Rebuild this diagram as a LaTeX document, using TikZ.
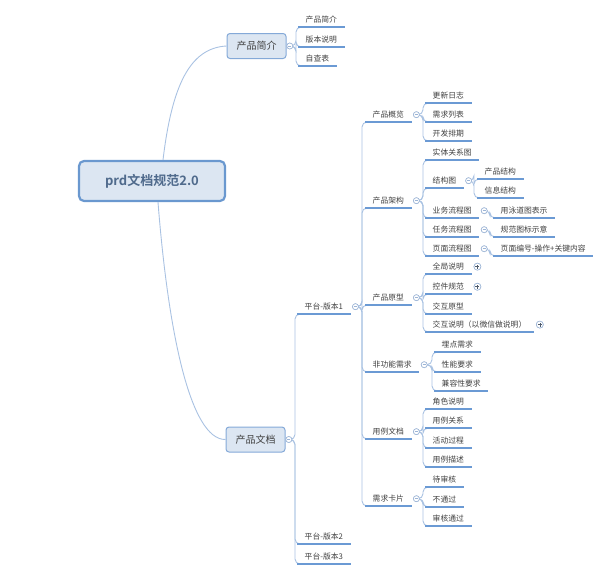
\documentclass[tikz,border=0pt]{standalone}
\usepackage{fontspec}
\setmainfont{Noto Sans CJK SC}[BoldFont={Noto Sans CJK SC Bold}]
\usetikzlibrary{positioning}
\definecolor{boxfill}{HTML}{DCE6F2}
\definecolor{rootline}{HTML}{6A98CF}
\definecolor{boxline}{HTML}{84A9D8}
\definecolor{ulinec}{HTML}{6B9AD4}
\definecolor{branchc}{HTML}{A9C2E2}
\definecolor{foldc}{HTML}{9DB5D6}
\definecolor{roottext}{HTML}{4F6A8C}
\definecolor{txt}{HTML}{404040}

\tikzset{
  root/.style={draw=rootline, fill=boxfill, line width=2.2pt, rounded corners=5pt,
    minimum width=146pt, minimum height=40pt, text=roottext,
    font=\fontsize{13}{15}\selectfont\bfseries},
  topic/.style={draw=boxline, fill=boxfill, line width=1pt, rounded corners=3pt,
    minimum width=59pt, minimum height=25pt, text=txt, font=\fontsize{10}{12}\selectfont},
  leaf/.style={anchor=south west, inner xsep=7.5pt, inner ysep=3.5pt, text=txt,
    font=\fontsize{7.8}{9}\selectfont},
  fold/.style={circle, draw=foldc, fill=white, line width=0.6pt, inner sep=0pt, minimum size=6pt,
    path picture={\draw[foldc, line width=0.5pt] ([xshift=-1.6pt]path picture bounding box.center)
      -- ([xshift=1.6pt]path picture bounding box.center);}},
  folded/.style={circle, draw=foldc, fill=white, line width=0.6pt, inner sep=0pt, minimum size=7pt,
    path picture={\draw[foldc!50!black, line width=0.6pt]
      ([xshift=-2pt]path picture bounding box.center) -- ([xshift=2pt]path picture bounding box.center)
      ([yshift=-2pt]path picture bounding box.center) -- ([yshift=2pt]path picture bounding box.center);}},
  main/.style={draw=branchc, line width=0.9pt},
  branch/.style={draw=branchc, line width=0.9pt, rounded corners=5pt},
  uline/.style={draw=ulinec, line width=1.5pt}
}

\begin{document}
\begin{tikzpicture}[x=1pt,y=-1pt]
\useasboundingbox (0,0) rectangle (610,576);

% centre and first level
\node[root] (root) at (152,181) {prd文档规范2.0};
\node[topic] (intro) at (256.5,46) {产品简介};
\node[topic] (doc) at (255.5,439.5) {产品文档};
\node[fold, right=0pt of intro] (intro-f) {};
\node[fold, right=0pt of doc] (doc-f) {};
\draw[main] ([xshift=11pt]root.north) .. controls (172,85) and (190,48) .. (intro.west);
\draw[main] ([xshift=6pt]root.south) .. controls (168,330) and (190,440) .. (doc.west);

% 产品简介
\node[leaf] (intro1) at (298,27) {产品简介};
\node[leaf] (intro2) at (298,47) {版本说明};
\node[leaf] (intro3) at (298,66) {自查表};

% 产品文档
\node[leaf] (v1) at (297,314) {平台-版本1};
\node[leaf] (v2) at (297,544) {平台-版本2};
\node[leaf] (v3) at (297,564) {平台-版本3};
\node[fold, right=1.5pt of v1] (v1-f) {};

% 平台-版本1
\node[leaf] (ov) at (365,122) {产品概览};
\node[leaf] (ar) at (365,208) {产品架构};
\node[leaf] (pr) at (365,305) {产品原型};
\node[leaf] (nf) at (365,372) {非功能需求};
\node[leaf] (uc) at (365,439) {用例文档};
\node[leaf] (cd) at (365,506) {需求卡片};
\foreach \n in {ov,ar,pr,nf,uc,cd}
  \node[fold, right=1.5pt of \n] (\n-f) {};

% 产品概览
\node[leaf] (ov1) at (425,103) {更新日志};
\node[leaf] (ov2) at (425,122) {需求列表};
\node[leaf] (ov3) at (425,141) {开发排期};

% 产品架构
\node[leaf] (ar1) at (425,160) {实体关系图};
\node[leaf] (ar2) at (425,188) {结构图};
\node[leaf] (ar3) at (425,218) {业务流程图};
\node[leaf] (ar4) at (425,237) {任务流程图};
\node[leaf] (ar5) at (425,256) {页面流程图};
\foreach \n in {ar2,ar3,ar4,ar5}
  \node[fold, right=1.5pt of \n] (\n-f) {};
\node[leaf] (st1) at (477,179) {产品结构};
\node[leaf] (st2) at (477,198) {信息结构};
\node[leaf] (bf1) at (493,218) {用泳道图表示};
\node[leaf] (tf1) at (493,237) {规范图标示意};
\node[leaf] (pf1) at (493,256) {页面编号-操作+关键内容};

% 产品原型
\node[leaf] (pr1) at (425,274) {全局说明};
\node[leaf] (pr2) at (425,294) {控件规范};
\node[leaf] (pr3) at (425,314) {交互原型};
\node[leaf] (pr4) at (425,332) {交互说明（以微信做说明）};
\foreach \n in {pr1,pr2,pr4}
  \node[folded, right=2pt of \n] (\n-f) {};

% 非功能需求
\node[leaf] (nf1) at (434,352) {埋点需求};
\node[leaf] (nf2) at (434,372) {性能要求};
\node[leaf] (nf3) at (434,391) {兼容性要求};

% 用例文档
\node[leaf] (uc1) at (425,409) {角色说明};
\node[leaf] (uc2) at (425,428) {用例关系};
\node[leaf] (uc3) at (425,448) {活动过程};
\node[leaf] (uc4) at (425,467) {用例描述};

% 需求卡片
\node[leaf] (cd1) at (425,487) {待审核};
\node[leaf] (cd2) at (425,507) {不通过};
\node[leaf] (cd3) at (425,526) {审核通过};

% trunks
\coordinate (intro-t) at (296,0);
\coordinate (doc-t) at (295,0);
\coordinate (v1-t) at (362,0);
\coordinate (sub-t) at (423,0);
\coordinate (nf-t) at (432,0);
\coordinate (st-t) at (474,0);
\coordinate (one-t) at (490,0);

% branches
\foreach \c in {intro1,intro2,intro3}
  \draw[branch] (intro-f.east) -- (intro-f.east -| intro-t) |- (\c.south west);
\foreach \c in {v1,v2,v3}
  \draw[branch] (doc-f.east) -- (doc-f.east -| doc-t) |- (\c.south west);
\foreach \c in {ov,ar,pr,nf,uc,cd}
  \draw[branch] (v1-f.east) -- (v1-f.east -| v1-t) |- (\c.south west);
\foreach \p/\c in {ov/ov1,ov/ov2,ov/ov3,ar/ar1,ar/ar2,ar/ar3,ar/ar4,ar/ar5,
    pr/pr1,pr/pr2,pr/pr3,pr/pr4,uc/uc1,uc/uc2,uc/uc3,uc/uc4,cd/cd1,cd/cd2,cd/cd3}
  \draw[branch] (\p-f.east) -- (\p-f.east -| sub-t) |- (\c.south west);
\foreach \c in {nf1,nf2,nf3}
  \draw[branch] (nf-f.east) -- (nf-f.east -| nf-t) |- (\c.south west);
\foreach \c in {st1,st2}
  \draw[branch] (ar2-f.east) -- (ar2-f.east -| st-t) |- (\c.south west);
\foreach \p/\c in {ar3/bf1,ar4/tf1,ar5/pf1}
  \draw[branch] (\p-f.east) -- (\p-f.east -| one-t) |- (\c.south west);

% underlines
\foreach \n in {intro1,intro2,intro3,v1,v2,v3,ov,ar,pr,nf,uc,cd,ov1,ov2,ov3,
    ar1,ar2,ar3,ar4,ar5,st1,st2,bf1,tf1,pf1,pr1,pr2,pr3,pr4,nf1,nf2,nf3,
    uc1,uc2,uc3,uc4,cd1,cd2,cd3}
  \draw[uline] (\n.south west) -- (\n.south east);

% folds on top of lines
\foreach \n in {intro,doc,v1,ov,ar,pr,nf,uc,cd,ar2,ar3,ar4,ar5}
  \node[fold] at (\n-f) {};
\foreach \n in {pr1,pr2,pr4}
  \node[folded] at (\n-f) {};
\end{tikzpicture}
\end{document}
